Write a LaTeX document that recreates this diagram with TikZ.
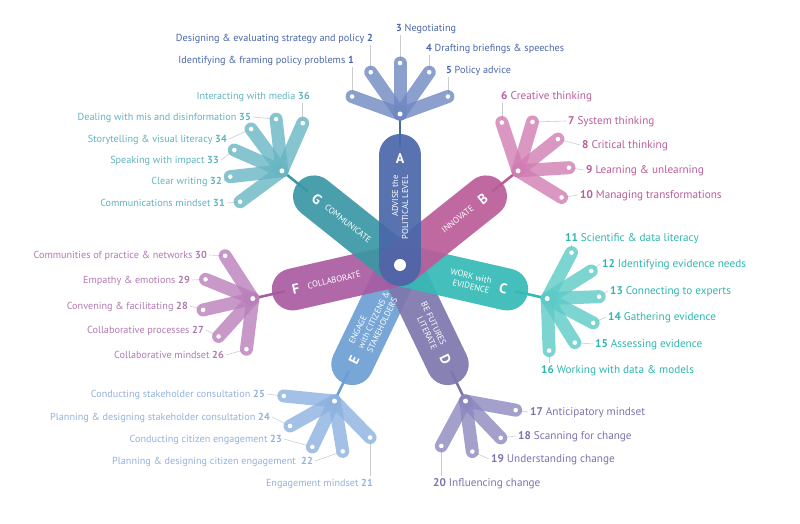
\documentclass[tikz,border=0pt]{standalone}
\usepackage{fontspec}
\setmainfont{PT Sans}
\usetikzlibrary{calc}
\definecolor{cA}{HTML}{4A67A9}
\definecolor{cB}{HTML}{BA5C98}
\definecolor{cC}{HTML}{34BAB5}
\definecolor{cD}{HTML}{7E76AE}
\definecolor{cE}{HTML}{6B9ED4}
\definecolor{cF}{HTML}{A95BA1}
\definecolor{cG}{HTML}{3B97A5}
\definecolor{pA}{HTML}{6F88C2}
\definecolor{pB}{HTML}{D07DB3}
\definecolor{pC}{HTML}{5CCAC6}
\definecolor{pD}{HTML}{8C88BE}
\definecolor{pE}{HTML}{8CB2E0}
\definecolor{pF}{HTML}{BA80BA}
\definecolor{pG}{HTML}{68B5C4}
\definecolor{tA}{HTML}{4A67A9}
\definecolor{tB}{HTML}{B85C98}
\definecolor{tC}{HTML}{30B5B0}
\definecolor{tD}{HTML}{7A74AC}
\definecolor{tE}{HTML}{93B2DD}
\definecolor{tF}{HTML}{B07AB0}
\definecolor{tG}{HTML}{62B2C0}
\begin{document}
\begin{tikzpicture}[x=1pt,y=1pt,
  bar/.style={line width=42pt,line cap=round,draw opacity=0.92},
  petal/.style={line width=13pt,line cap=round,draw opacity=0.8},
  link/.style={line width=2.6pt},
  enddot/.style={circle,fill=white,inner sep=0pt,minimum size=4.6pt},
  hubdot/.style={circle,fill=white,inner sep=0pt,minimum size=5pt},
  lead/.style={draw=black!20,line width=0.6pt},
  lab/.style={font=\fontsize{10.2}{12}\selectfont,inner sep=0pt,text height=7.4pt,text depth=0pt},
  labbig/.style={font=\fontsize{11.2}{13}\selectfont,inner sep=0pt,text height=8pt,text depth=0pt},
  labR/.style={lab,anchor=west},
  labL/.style={lab,anchor=east},
  labRB/.style={labbig,anchor=west},
  bartxt/.style={text=white,font=\fontsize{8.6}{10}\selectfont,inner sep=0pt},
  barlet/.style={text=white,font=\bfseries\fontsize{14}{14}\selectfont,inner sep=0pt},
]
\useasboundingbox (0,0) rectangle (800,524);
\coordinate (c) at (400,259);
\foreach \n/\a in {A/90,B/38.57,C/-12.86,D/-64.29,E/-115.71,F/192.86,G/141.43}{
  \coordinate (h\n) at ($(c)+(\a:151)$);
  \coordinate (s\n) at ($(c)+(\a:118)$);
  \coordinate (b\n) at ($(c)+(\a:110)$);
}
\foreach \n/\o in {1/70,2/35,3/0,4/-35,5/-70} \coordinate (e\n) at ($(hA)+(90+\o:51)$);
\foreach \n/\o in {6/70,7/35,8/0,9/-35,10/-70} \coordinate (e\n) at ($(hB)+(38.57+\o:51)$);
\foreach \n/\o in {11/75,12/45,13/15,14/-15,15/-45,16/-75} \coordinate (e\n) at ($(hC)+(-12.86+\o:52)$);
\foreach \n/\o in {17/54,18/18,19/-18,20/-54} \coordinate (e\n) at ($(hD)+(-64.29+\o:51)$);
\foreach \n/\o in {21/70,22/35,23/0,24/-35,25/-70} \coordinate (e\n) at ($(hE)+(-115.71+\o:51)$);
\foreach \n/\o in {26/70,27/35,28/0,29/-35,30/-70} \coordinate (e\n) at ($(hF)+(192.86+\o:51)$);
\foreach \n/\o in {31/75,32/45,33/15,34/-15,35/-45,36/-75} \coordinate (e\n) at ($(hG)+(141.43+\o:52)$);

% labels
\node[labL,text=tA] (l1) at (354,464) {Identifying \& framing policy problems \textbf{1}};
\node[labL,text=tA] (l2) at (373,486) {Designing \& evaluating strategy and policy \textbf{2}};
\node[labR,text=tA] (l3) at (396,496) {\textbf{3} Negotiating};
\node[labR,text=tA] (l4) at (426,476) {\textbf{4} Drafting briefings \& speeches};
\node[labR,text=tA] (l5) at (446,454) {\textbf{5} Policy advice};
\node[labRB,text=tB] (l6) at (501,428) {\textbf{6} Creative thinking};
\node[labRB,text=tB] (l7) at (568,403) {\textbf{7} System thinking};
\node[labRB,text=tB] (l8) at (582,379) {\textbf{8} Critical thinking};
\node[labRB,text=tB] (l9) at (586,354) {\textbf{9} Learning \& unlearning};
\node[labRB,text=tB] (l10) at (580,329) {\textbf{10} Managing transformations};
\node[labRB,text=tC] (l11) at (565,286) {\textbf{11} Scientific \& data literacy};
\node[labRB,text=tC] (l12) at (602,260) {\textbf{12} Identifying evidence needs};
\node[labRB,text=tC] (l13) at (610,233) {\textbf{13} Connecting to experts};
\node[labRB,text=tC] (l14) at (608,207) {\textbf{14} Gathering evidence};
\node[labRB,text=tC] (l15) at (595,180) {\textbf{15} Assessing evidence};
\node[labRB,text=tC] (l16) at (541,154) {\textbf{16} Working with data \& models};
\node[labRB,text=tD] (l17) at (530,112) {\textbf{17} Anticipatory mindset};
\node[labRB,text=tD] (l18) at (518,88) {\textbf{18} Scanning for change};
\node[labRB,text=tD] (l19) at (491,65) {\textbf{19} Understanding change};
\node[labRB,text=tD] (l20) at (433,41) {\textbf{20} Influencing change};
\node[labL,text=tE] (l21) at (373,41) {Engagement mindset \textbf{21}};
\node[labL,text=tE] (l22) at (313,63) {Planning \& designing citizen engagement\ \ \textbf{22}};
\node[labL,text=tE] (l23) at (282,85) {Conducting citizen engagement \textbf{23}};
\node[labL,text=tE] (l24) at (270,107) {Planning \& designing stakeholder consultation \textbf{24}};
\node[labL,text=tE] (l25) at (265,130) {Conducting stakeholder consultation \textbf{25}};
\node[labL,text=tF] (l26) at (224,169) {Collaborative mindset \textbf{26}};
\node[labL,text=tF] (l27) at (204,194) {Collaborative processes \textbf{27}};
\node[labL,text=tF] (l28) at (188,218) {Convening \& facilitating \textbf{28}};
\node[labL,text=tF] (l29) at (190,244) {Empathy \& emotions \textbf{29}};
\node[labL,text=tF] (l30) at (207,269) {Communities of practice \& networks \textbf{30}};
\node[labL,text=tG] (l31) at (225,321) {Communications mindset \textbf{31}};
\node[labL,text=tG] (l32) at (222,343) {Clear writing \textbf{32}};
\node[labL,text=tG] (l33) at (219,364) {Speaking with impact \textbf{33}};
\node[labL,text=tG] (l34) at (227,385) {Storytelling \& visual literacy \textbf{34}};
\node[labL,text=tG] (l35) at (251,407) {Dealing with mis and disinformation \textbf{35}};
\node[labL,text=tG] (l36) at (310,428) {Interacting with media \textbf{36}};

% leaders
\foreach \n in {7,8,9,10,12,13,14,15,17,18,19} \draw[lead] (e\n) -- ([xshift=-2pt]l\n.west);
\foreach \n in {22,23,24,25,26,27,28,29,30,31,32,33,34,35} \draw[lead] (e\n) -- ([xshift=2pt]l\n.east);
\foreach \n in {1,2,3,4,5,6,11,36} \draw[lead] (e\n) -- ([yshift=-3pt]e\n |- l\n.south);
\foreach \n in {16,20,21} \draw[lead] (e\n) -- ([yshift=3pt]e\n |- l\n.north);

% links
\foreach \n in {A,B,C,D,E,F,G} \draw[link,c\n] (s\n) -- (h\n);

% petals
\foreach \n in {1,...,5} \draw[petal,pA] (hA) -- (e\n);
\foreach \n in {6,...,10} \draw[petal,pB] (hB) -- (e\n);
\foreach \n in {11,...,16} \draw[petal,pC] (hC) -- (e\n);
\foreach \n in {17,...,20} \draw[petal,pD] (hD) -- (e\n);
\foreach \n in {21,...,25} \draw[petal,pE] (hE) -- (e\n);
\foreach \n in {26,...,30} \draw[petal,pF] (hF) -- (e\n);
\foreach \n in {31,...,36} \draw[petal,pG] (hG) -- (e\n);

% bars
\foreach \n in {E,D,F,C,G,B,A} \draw[bar,c\n] (c) -- (b\n);

% bar texts
\node[bartxt,align=right,rotate=90,anchor=east] (tA) at ($(c)+(90:90)$) {ADVISE the\\POLITICAL LEVEL};
\node[barlet] (LA) at ($(c)+(90:106)$) {A};
\node[bartxt,rotate=38.57,anchor=east] (tB) at ($(c)+(38.57:93)$) {INNOVATE};
\node[barlet,rotate=38.57] (LB) at ($(c)+(38.57:106)$) {B};
\node[bartxt,align=right,rotate=-12.86,anchor=east] (tC) at ($(c)+(-12.86:93)$) {WORK with\\EVIDENCE};
\node[barlet,rotate=-12.86] (LC) at ($(c)+(-12.86:106)$) {C};
\node[bartxt,align=right,rotate=-64.29,anchor=east] (tD) at ($(c)+(-64.29:91)$) {BE FUTURES\\LITERATE};
\node[barlet,rotate=-64.29] (LD) at ($(c)+(-64.29:105)$) {D};
\node[bartxt,align=left,rotate=64.29,anchor=west] (tE) at ($(c)+(-115.71:92)$) {ENGAGE\\with CITIZENS \&\\STAKEHOLDERS};
\node[barlet,rotate=64.29] (LE) at ($(c)+(-115.71:106)$) {E};
\node[bartxt,rotate=12.86,anchor=west] (tF) at ($(c)+(192.86:95)$) {COLLABORATE};
\node[barlet,rotate=12.86] (LF) at ($(c)+(192.86:107)$) {F};
\node[bartxt,rotate=-38.57,anchor=west] (tG) at ($(c)+(141.43:95)$) {COMMUNICATE};
\node[barlet,rotate=-38.57] (LG) at ($(c)+(141.43:106)$) {G};

% dots
\foreach \n in {A,B,C,D,E,F,G} \node[hubdot] (hd\n) at (h\n) {};
\foreach \n in {1,...,36} \node[enddot] (d\n) at (e\n) {};
\node[circle,fill=white,inner sep=0pt,minimum size=12pt] (cd) at (c) {};
\end{tikzpicture}
\end{document}
